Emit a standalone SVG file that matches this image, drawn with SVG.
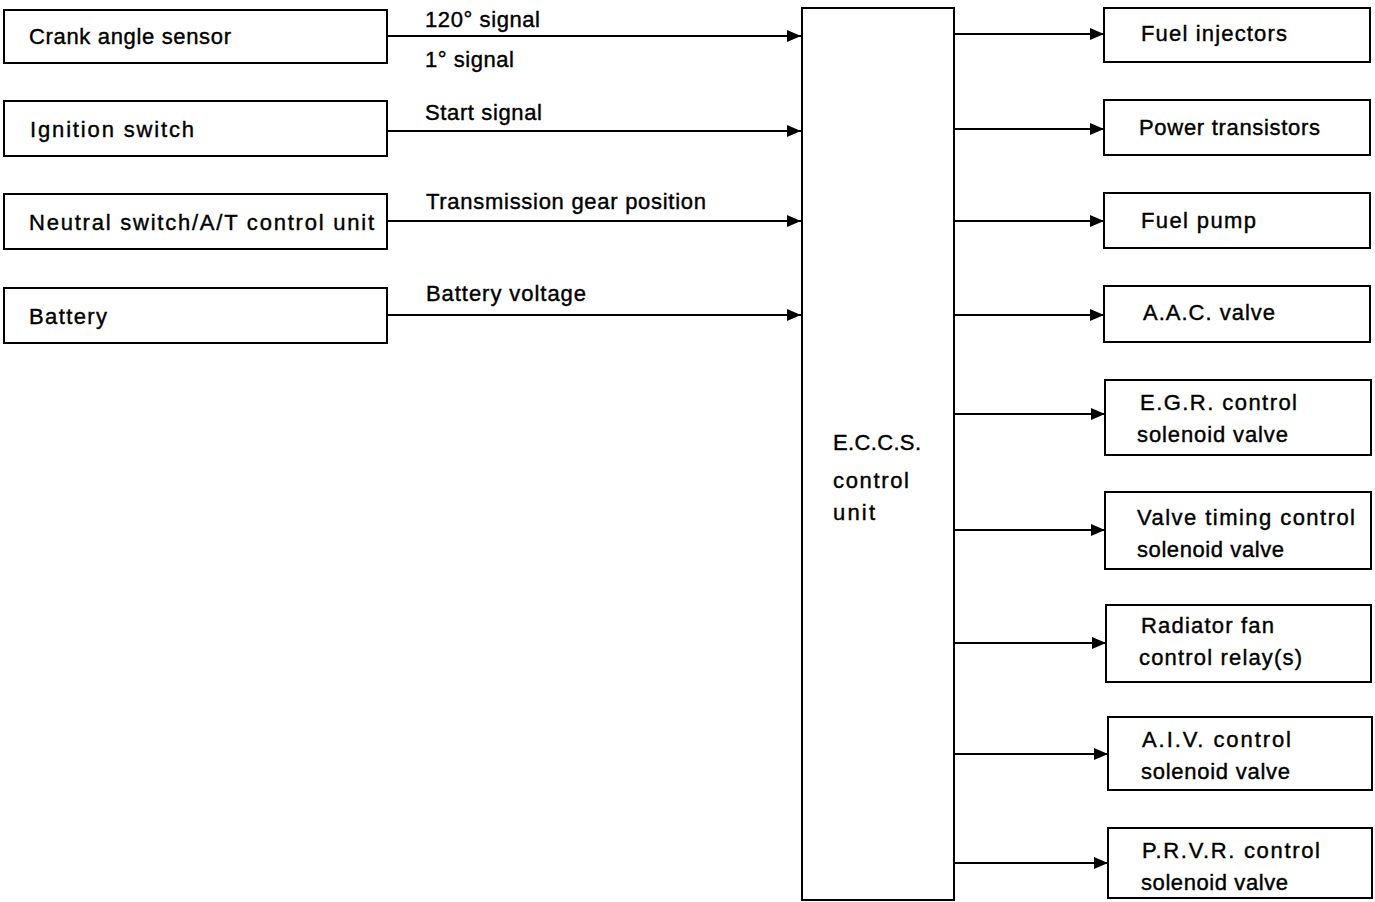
<svg xmlns="http://www.w3.org/2000/svg" width="1375" height="902" viewBox="0 0 1375 902">
<defs>
<marker id="arr" markerWidth="14" markerHeight="12" refX="14" refY="6" orient="auto" markerUnits="userSpaceOnUse">
<path d="M0,0 L14,6 L0,12 Z" fill="#000"/>
</marker>
<style>
.box{fill:#fff;stroke:#000;stroke-width:2}
.t{font-family:"Liberation Sans",Arial,sans-serif;font-size:22px;fill:#000;stroke:#000;stroke-width:0.4}
.c{stroke:#000;stroke-width:2;fill:none;marker-end:url(#arr)}
</style>
</defs>
<rect width="1375" height="902" fill="#fff"/>
<g id="crank"><rect class="box" x="4" y="10" width="383" height="53"/><text class="t" x="29" y="44" textLength="202" lengthAdjust="spacing">Crank angle sensor</text></g>
<g id="ignition"><rect class="box" x="4" y="101" width="383" height="55"/><text class="t" x="30" y="137" textLength="164" lengthAdjust="spacing">Ignition switch</text></g>
<g id="neutral"><rect class="box" x="4" y="194" width="383" height="55"/><text class="t" x="29" y="230" textLength="345" lengthAdjust="spacing">Neutral switch/A/T control unit</text></g>
<g id="battery"><rect class="box" x="4" y="288" width="383" height="55"/><text class="t" x="29" y="324" textLength="78" lengthAdjust="spacing">Battery</text></g>
<g id="eccs"><rect class="box" x="802" y="8" width="152" height="892"/><text class="t" x="833" y="450" textLength="88" lengthAdjust="spacing">E.C.C.S.</text><text class="t" x="833" y="488" textLength="76" lengthAdjust="spacing">control</text><text class="t" x="833" y="520" textLength="42" lengthAdjust="spacing">unit</text></g>
<g id="fuelinj"><rect class="box" x="1104" y="8" width="266" height="54"/><text class="t" x="1141" y="41" textLength="146" lengthAdjust="spacing">Fuel injectors</text></g>
<g id="powertr"><rect class="box" x="1104" y="100" width="266" height="55"/><text class="t" x="1139" y="135" textLength="181" lengthAdjust="spacing">Power transistors</text></g>
<g id="fuelpump"><rect class="box" x="1104" y="193" width="266" height="55"/><text class="t" x="1141" y="228" textLength="115" lengthAdjust="spacing">Fuel pump</text></g>
<g id="aac"><rect class="box" x="1104" y="286" width="266" height="56"/><text class="t" x="1143" y="320" textLength="132" lengthAdjust="spacing">A.A.C. valve</text></g>
<g id="egr"><rect class="box" x="1105" y="380" width="266" height="75"/><text class="t" x="1140" y="410" textLength="157" lengthAdjust="spacing">E.G.R. control</text><text class="t" x="1137" y="442" textLength="151" lengthAdjust="spacing">solenoid valve</text></g>
<g id="vtc"><rect class="box" x="1105" y="492" width="266" height="77"/><text class="t" x="1137" y="525" textLength="218" lengthAdjust="spacing">Valve timing control</text><text class="t" x="1137" y="557" textLength="147" lengthAdjust="spacing">solenoid valve</text></g>
<g id="radfan"><rect class="box" x="1106" y="605" width="265" height="77"/><text class="t" x="1141" y="633" textLength="133" lengthAdjust="spacing">Radiator fan</text><text class="t" x="1139" y="665" textLength="163" lengthAdjust="spacing">control relay(s)</text></g>
<g id="aiv"><rect class="box" x="1108" y="717" width="264" height="73"/><text class="t" x="1142" y="747" textLength="149" lengthAdjust="spacing">A.I.V. control</text><text class="t" x="1141" y="779" textLength="149" lengthAdjust="spacing">solenoid valve</text></g>
<g id="prvr"><rect class="box" x="1108" y="828" width="264" height="70"/><text class="t" x="1142" y="858" textLength="178" lengthAdjust="spacing">P.R.V.R. control</text><text class="t" x="1141" y="890" textLength="147" lengthAdjust="spacing">solenoid valve</text></g>
<g id="connectors">
<line class="c" x1="387" y1="36" x2="801" y2="36"/>
<line class="c" x1="387" y1="131" x2="801" y2="131"/>
<line class="c" x1="387" y1="221" x2="801" y2="221"/>
<line class="c" x1="387" y1="315" x2="801" y2="315"/>
<line class="c" x1="954" y1="34" x2="1104" y2="34"/>
<line class="c" x1="954" y1="129" x2="1104" y2="129"/>
<line class="c" x1="954" y1="221" x2="1104" y2="221"/>
<line class="c" x1="954" y1="315" x2="1104" y2="315"/>
<line class="c" x1="954" y1="414" x2="1105" y2="414"/>
<line class="c" x1="954" y1="530" x2="1105" y2="530"/>
<line class="c" x1="954" y1="643" x2="1106" y2="643"/>
<line class="c" x1="954" y1="754" x2="1108" y2="754"/>
<line class="c" x1="954" y1="863" x2="1108" y2="863"/>
<text class="t" x="425" y="27" textLength="115" lengthAdjust="spacing">120° signal</text>
<text class="t" x="425" y="67" textLength="89" lengthAdjust="spacing">1° signal</text>
<text class="t" x="425" y="120" textLength="117" lengthAdjust="spacing">Start signal</text>
<text class="t" x="426" y="209" textLength="280" lengthAdjust="spacing">Transmission gear position</text>
<text class="t" x="426" y="301" textLength="160" lengthAdjust="spacing">Battery voltage</text>
</g>
</svg>
